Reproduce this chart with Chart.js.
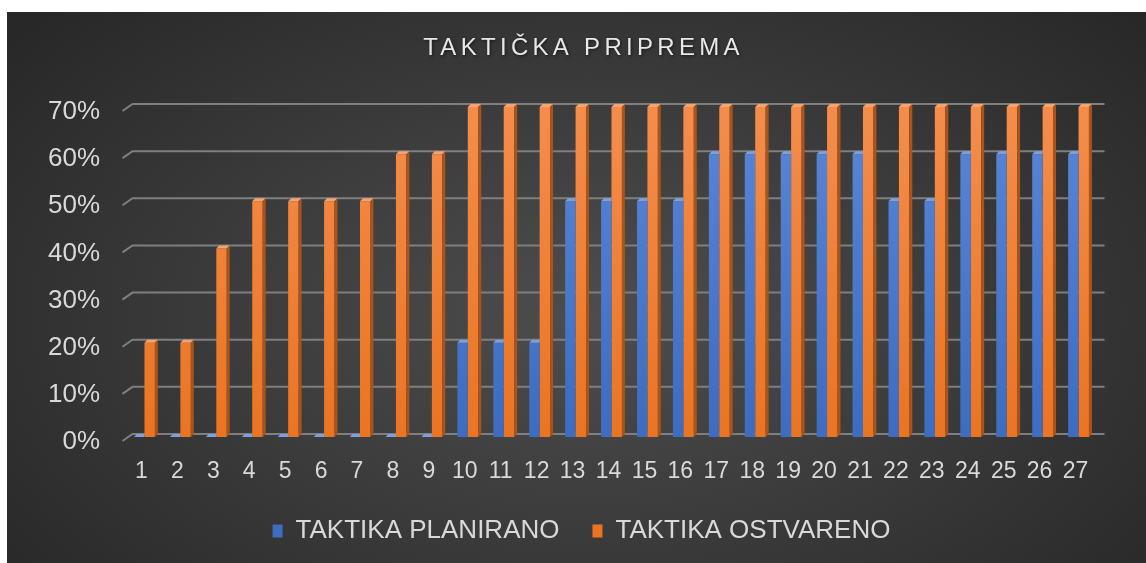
<!DOCTYPE html>
<html>
<head>
<meta charset="utf-8">
<script src="https://cdn.jsdelivr.net/npm/chart.js@4.4.1/dist/chart.umd.min.js"></script>
<style>
  html, body { margin: 0; padding: 0; background: #fff; }
  #wrap {
    position: absolute; left: 7px; top: 12px; width: 1139px; height: 551px;
    background: radial-gradient(ellipse 65% 80% at 51% 55%, #4d4d4d 0%, #3d3d3d 45%, #282828 100%);
  }
</style>
</head>
<body>
<div id="wrap"><canvas id="chart" width="1139" height="551"></canvas></div>
<script>
// podaci
const TITLE = "TAKTIČKA PRIPREMA";
const categories = ["1", "2", "3", "4", "5", "6", "7", "8", "9", "10", "11", "12", "13", "14",
    "15", "16", "17", "18", "19", "20", "21", "22", "23", "24", "25", "26", "27"];
const planirano = [0, 0, 0, 0, 0, 0, 0, 0, 0, 20, 20, 20, 50, 50, 50, 50, 60, 60, 60, 60, 60, 50, 50, 60, 60, 60, 60];
const ostvareno = [20, 20, 40, 50, 50, 50, 50, 60, 60, 70, 70, 70, 70, 70, 70, 70, 70, 70, 70, 70, 70, 70, 70, 70, 70, 70, 70];
const yTicks = [0, 10, 20, 30, 40, 50, 60, 70];

const FONT = '"Liberation Sans", Arial, sans-serif';
const TEXT = "#d9d9d9";

// gradient fill for bars (lighter on top)
function barFill(top, bottom) {
    return function (context) {
        const chart = context.chart;
        const area = chart.chartArea;
        if (!area) return bottom;
        const g = chart.ctx.createLinearGradient(0, area.top, 0, area.bottom);
        g.addColorStop(0, top);
        g.addColorStop(1, bottom);
        return g;
    };
}

// 3D look: top face + right side
const sides = [
    { top: "#7ea0e2", side: "#2f5597" },
    { top: "#f6a36e", side: "#a9541c" },
];

const gridPlugin = {
    id: "grid3d",
    beforeDatasetsDraw(chart) {
        const { ctx, chartArea, scales } = chart;
        const y = scales.y;
        ctx.save();
        ctx.strokeStyle = "#7f7f7f";
        ctx.lineWidth = 2;
        yTicks.forEach((v) => {
            const py = y.getPixelForValue(v);
            ctx.beginPath();
            ctx.moveTo(chartArea.left - 4, py + 4);
            ctx.lineTo(chartArea.left + 6, py - 3);
            ctx.lineTo(chartArea.right + 8, py - 3);
            ctx.stroke();
        });
        ctx.restore();
    },
    afterDatasetsDraw(chart) {
        const ctx = chart.ctx;
        const d = 3;
        const n = chart.data.datasets.length;
        ctx.save();
        for (let i = 0; i < n; i++) {
            const last = i === n - 1;
            chart.getDatasetMeta(i).data.forEach((bar) => {
                const { x, y, base, width } = bar.getProps(["x", "y", "base", "width"], true);
                const l = x - width / 2;
                const r = x + width / 2;
                ctx.fillStyle = sides[i].top;
                ctx.beginPath();
                ctx.moveTo(l, y);
                ctx.lineTo(l + d, y - d);
                ctx.lineTo(last ? r + d : r, y - d);
                ctx.lineTo(r, y);
                ctx.closePath();
                ctx.fill();
                if (last) {
                    ctx.fillStyle = sides[i].side;
                    ctx.beginPath();
                    ctx.moveTo(r, y);
                    ctx.lineTo(r + d, y - d);
                    ctx.lineTo(r + d, base - d);
                    ctx.lineTo(r, base);
                    ctx.closePath();
                    ctx.fill();
                }
            });
        }
        ctx.restore();
    },
};

const titlePlugin = {
    id: "titleText",
    afterDraw(chart) {
        const ctx = chart.ctx;
        ctx.save();
        ctx.font = "24px " + FONT;
        ctx.letterSpacing = "4.3px";
        ctx.fillStyle = "#e8e8e8";
        ctx.shadowColor = "rgba(0,0,0,0.6)";
        ctx.shadowBlur = 3;
        ctx.shadowOffsetX = 1;
        ctx.shadowOffsetY = 1;
        ctx.textAlign = "left";
        ctx.textBaseline = "alphabetic";
        const w = ctx.measureText(TITLE).width - 4;
        ctx.fillText(TITLE, chart.width / 2 + 5 - w / 2, 43);
        ctx.restore();
    },
};

let chart = new Chart(document.getElementById("chart"), {
    type: "bar",
    data: {
        labels: categories,
        datasets: [
            {
                label: "TAKTIKA PLANIRANO",
                data: planirano,
                backgroundColor: barFill("#5a86d6", "#3d6cc0"),
                borderWidth: 0,
                categoryPercentage: 0.58,
                barPercentage: 1,
            },
            {
                label: "TAKTIKA OSTVARENO",
                data: ostvareno,
                backgroundColor: barFill("#f48d4c", "#ea7422"),
                borderWidth: 0,
                categoryPercentage: 0.58,
                barPercentage: 1,
            },
        ],
    },
    options: {
        responsive: false,
        animation: false,
        layout: { padding: { top: 95, left: 10, right: 0, bottom: 9 } },
        plugins: {
            title: { display: false },
            tooltip: { enabled: false },
            legend: {
                position: "bottom",
                labels: {
                    color: TEXT,
                    font: { family: FONT, size: 26 },
                    boxWidth: 10,
                    boxHeight: 13,
                    padding: 33,
                },
            },
        },
        scales: {
            x: {
                grid: { display: false },
                border: { display: false },
                ticks: {
                    color: TEXT,
                    font: { family: FONT, size: 23 },
                    padding: 13,
                    labelOffset: -3,
                    maxRotation: 0,
                    autoSkip: false,
                },
                afterFit: (s) => { s.height = 48; },
            },
            y: {
                min: 0,
                max: 70,
                grid: { display: false },
                border: { display: false },
                ticks: {
                    stepSize: 10,
                    callback: (v) => v + "%",
                    color: TEXT,
                    font: { family: FONT, size: 26 },
                    padding: 18.5,
                    labelOffset: 5,
                },
                afterFit: (s) => { s.width = 109.5; },
            },
            y2: {
                position: "right",
                grid: { display: false },
                border: { display: false },
                ticks: { display: false },
                afterFit: (s) => { s.width = 49.5; },
            },
        },
    },
    plugins: [gridPlugin, titlePlugin],
});
</script>
</body>
</html>
